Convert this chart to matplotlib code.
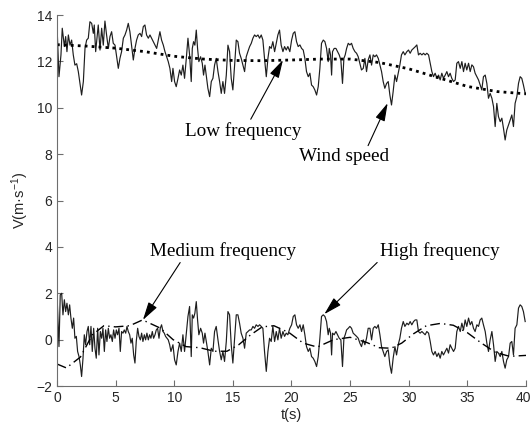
import matplotlib
matplotlib.use("Agg")
import matplotlib.pyplot as plt
from matplotlib.transforms import ScaledTranslation

plt.rcParams["font.family"] = ["Liberation Sans", "DejaVu Sans"]
plt.rcParams["mathtext.default"] = "regular"

# sample times, first ~10 s (wind record), first ~10 s (high-frequency part), shared remainder
t_head_wind = [0.0, 0.17, 0.34, 0.45, 0.63, 0.74, 0.85, 0.97,
               1.11, 1.25, 1.39, 1.53, 1.68, 1.82, 1.96, 2.10, 2.25, 2.39, 2.53, 2.67, 2.81, 2.96, 3.10,
               3.18, 3.30, 3.44, 3.52,
               3.67, 3.81, 3.95, 4.09, 4.23, 4.38, 4.52, 4.66, 4.80, 4.95, 5.09, 5.23, 5.37, 5.51,
               5.66, 5.80, 5.94, 6.08, 6.22, 6.37, 6.51, 6.65, 6.79, 6.93, 7.08, 7.22, 7.36, 7.50,
               7.64, 7.79, 7.93, 8.07, 8.21, 8.36, 8.50, 8.64, 8.78, 8.92, 9.07, 9.21, 9.35, 9.49,
               9.63, 9.78]
t_head_high = [0.0, 0.17, 0.28, 0.40, 0.51, 0.63, 0.74, 0.85, 0.97, 1.08, 1.19, 1.31, 1.42, 1.53,
               1.65, 1.76, 1.88, 1.99, 2.10, 2.22, 2.33, 2.44, 2.56, 2.67, 2.79, 2.90, 3.01, 3.13,
               3.24, 3.35, 3.47, 3.58, 3.70, 3.81, 3.92, 4.04, 4.15, 4.26, 4.38, 4.49, 4.60, 4.72,
               4.83, 4.95, 5.06, 5.17, 5.29, 5.40, 5.51, 5.63, 5.74, 5.86, 5.97, 6.08, 6.20, 6.31,
               6.42, 6.54, 6.65, 6.76, 6.88, 6.99, 7.11, 7.22, 7.33, 7.45, 7.56, 7.67, 7.79, 7.90,
               8.01, 8.13, 8.24, 8.36, 8.47, 8.58, 8.70, 8.81, 8.92, 9.04, 9.15, 9.26, 9.38, 9.49,
               9.61, 9.72]
t_tail = [9.89, 10.03, 10.17, 10.32, 10.46, 10.60, 10.74, 10.88, 11.03, 11.17, 11.31, 11.45,
          11.54, 11.65, 11.76, 11.88, 11.99, 12.10, 12.25, 12.39, 12.50, 12.62,
          12.73, 12.87, 13.02, 13.16, 13.30, 13.44, 13.58, 13.73, 13.87, 14.01,
          14.15, 14.29, 14.44, 14.58, 14.72, 14.86, 15.00, 15.15, 15.29, 15.43,
          15.57, 15.71, 15.86, 16.00, 16.14, 16.28, 16.43, 16.57, 16.71, 16.85,
          16.99, 17.14, 17.28, 17.42, 17.56, 17.70, 17.85, 17.99, 18.13, 18.27,
          18.41, 18.56, 18.70, 18.84, 18.98, 19.12, 19.27, 19.41, 19.55, 19.69,
          19.86, 20.01, 20.15, 20.29, 20.43, 20.57, 20.72, 20.86, 21.00, 21.14, 21.28, 21.43,
          21.57, 21.71, 21.85, 21.99, 22.14, 22.28, 22.42, 22.56, 22.71, 22.85, 22.99, 23.13,
          23.22, 23.33, 23.42, 23.50, 23.64, 23.79, 23.93, 24.07, 24.21, 24.35, 24.47, 24.58, 24.70,
          24.84, 24.98, 25.12, 25.26, 25.41, 25.55, 25.69, 25.83, 25.97, 26.12, 26.26, 26.40,
          26.54, 26.69, 26.83, 26.97, 27.11, 27.25, 27.40, 27.54, 27.68, 27.82, 27.96, 28.11,
          28.25, 28.39, 28.53, 28.67, 28.82, 28.96, 29.10, 29.24, 29.38, 29.53, 29.67,
          29.84, 29.98, 30.12, 30.26, 30.41, 30.55, 30.69, 30.83, 30.97, 31.12, 31.26, 31.40,
          31.54, 31.69, 31.83, 31.97, 32.11, 32.25, 32.40, 32.54, 32.68, 32.82, 32.96, 33.11,
          33.25, 33.39, 33.53, 33.67, 33.82, 33.96, 34.10, 34.24, 34.39, 34.53, 34.67, 34.81,
          34.95, 35.10, 35.24, 35.38, 35.52, 35.66, 35.81, 35.95, 36.09, 36.23, 36.37, 36.52,
          36.66, 36.80, 36.94, 37.09, 37.23, 37.37, 37.51, 37.65, 37.80, 37.94, 38.08, 38.22,
          38.36, 38.51, 38.65, 38.79, 38.93, 39.07, 39.22, 39.36, 39.50, 39.64, 39.78, 39.93]

wind_speed = [13.57, 11.34, 12.28, 13.43, 12.64, 13.07, 12.42, 13.14,
              12.70, 12.92, 12.28, 11.84, 11.90, 11.56, 11.05, 10.55, 11.13, 12.56, 12.92, 13.00,
              13.71, 13.64, 13.21,
              13.57, 12.42, 13.14, 13.57,
              12.49, 13.43, 12.70, 13.74, 13.14, 12.56, 13.07, 13.28, 12.78, 12.70, 12.20, 11.70,
              12.13, 12.42, 13.00, 13.14, 13.35, 13.64, 13.28, 12.64, 12.06, 12.56, 12.92, 13.14,
              13.21, 13.07, 13.50, 13.57, 13.14, 13.00, 13.14, 13.00, 12.85, 12.70, 12.56, 12.92,
              13.28, 12.92, 12.70, 12.42, 12.20, 11.99, 11.70, 11.13,
              # 9.9 s onwards
              11.70, 11.13, 10.91, 11.27, 11.63, 11.41, 11.84, 11.27, 12.13, 13.00, 12.28, 11.13,
              12.56, 12.85, 12.70, 13.35, 12.56, 11.99, 12.20, 11.92, 11.41, 11.84,
              11.41, 10.84, 10.48, 11.13, 11.27, 11.84, 12.13, 11.56, 11.13, 10.62,
              11.13, 10.62, 11.41, 12.70, 12.42, 11.27, 10.77, 11.84, 12.92, 12.85,
              12.35, 12.13, 11.84, 11.56, 12.20, 12.42, 12.64, 12.78, 13.00, 13.14,
              13.07, 13.14, 13.00, 13.14, 12.92, 12.13, 11.34, 12.13, 12.64, 12.56,
              12.85, 12.42, 12.78, 13.14, 13.35, 12.70, 12.42, 12.64, 12.49, 12.64,
              # 19.9 s onwards
              12.42, 12.92, 13.21, 13.28, 12.85, 12.64, 12.71, 12.56, 12.49, 12.13, 11.56, 11.34,
              11.49, 10.98, 10.91, 10.77, 10.55, 10.91, 11.70, 12.78, 12.92, 12.85, 12.56, 11.99,
              12.56, 12.28, 11.41, 12.42, 12.56, 12.56, 12.42, 12.28, 12.06, 11.05, 12.13, 12.28, 12.56,
              12.78, 12.71, 12.78, 12.56, 12.42, 12.35, 12.20, 11.92, 11.63, 11.70, 12.13, 11.56,
              12.06, 12.28, 11.84, 12.28, 12.20, 12.28, 12.13, 11.84, 11.56, 11.13, 10.84, 11.05,
              11.13, 10.55, 10.12, 10.70, 11.41, 11.13, 11.49, 11.84, 12.28, 12.42, 12.28,
              # 29.8 s onwards
              12.42, 12.49, 12.35, 12.49, 12.56, 12.63, 12.71, 12.28, 12.35, 12.28,
              12.35, 12.28, 12.35, 12.28, 11.92, 11.56, 11.34, 11.49, 11.27, 11.41,
              11.20, 11.49, 11.27, 11.41, 11.56, 11.34, 11.49, 11.27, 11.13, 11.20,
              11.92, 11.99, 11.70, 11.99, 11.56, 11.92, 11.63, 11.92, 11.56, 11.85,
              11.77, 11.49, 11.34, 11.20, 10.98, 10.77, 11.34, 11.41, 11.05, 10.41,
              10.62, 10.41, 10.05, 9.19, 10.19, 9.62, 9.40, 9.55, 9.11, 8.61,
              9.04, 9.26, 9.47, 9.69, 9.19, 10.19, 10.48, 11.05, 11.34, 11.27,
              10.98, 10.62]

high_freq = [2.00, -0.30, 1.93, 2.00, 1.07, 1.72, 1.21, 1.57, 1.07, 1.50, 0.93, 0.49, 0.93, 0.06,
             0.14, -0.51, -0.73, -1.09, -1.59, -0.80, 0.21, -0.22, 0.35, 0.57, -0.22, 0.57, -0.51,
             0.49, -0.37, -0.80, 0.49, -0.66, 0.35, 0.06, 0.49, -0.51, 0.42, -0.08, 0.49, 0.06,
             0.21, -0.08, 0.42, 0.06, 0.42, 0.21, 0.49, -0.51, 0.35, 0.28, 0.42, 0.28, 0.57, 0.35,
             0.21, -0.15, 0.06, -0.66, -1.01, -0.08, 0.49, 0.14, -0.01, 0.28, -0.08, 0.21, -0.01,
             0.28, -0.01, 0.21, 0.06, 0.35, 0.06, 0.21, 0.42, 0.49, 0.06, 0.49, 0.64, 0.35, 0.28,
             0.14, 0.06, -0.01, -0.22, -0.51,
             # 9.9 s onwards
             -0.22, -0.87, -1.09, -0.51, -0.15, -0.51, 0.21, -0.51, 0.28, 1.00, 1.43, -0.73,
             1.07, 0.93, 1.14, 1.64, 0.85, 0.21, 0.49, 0.28, -0.15, 0.28,
             -0.08, -0.51, -1.09, -0.37, -0.51, 0.35, 0.57, -0.01, -0.51, -0.87,
             -0.51, -0.94, -0.08, 1.21, 1.07, -0.22, -1.01, 0.06, 1.07, 1.07,
             0.71, 0.28, 0.06, -0.37, 0.28, 0.35, 0.42, 0.42, 0.57, 0.49,
             0.64, 0.57, 0.64, 0.57, 0.49, -0.51, -1.37, -0.51, 0.06, -0.08,
             0.57, -0.08, 0.35, -0.01, 0.49, 0.06, 0.35, 0.14, 0.28, 0.21,
             # 19.9 s onwards
             0.49, 0.64, 1.00, 1.07, 0.64, 0.49, 0.64, 0.35, 0.64, 0.21, -0.30, -0.51,
             -0.37, -0.73, -0.80, -0.94, -1.16, -0.73, 0.06, 1.00, 1.07, 1.00, 0.78, 0.21,
             0.49, 0.28, -0.66, 0.28, 0.21, 0.35, 0.21, 0.06, -0.01, -1.16, 0.06, 0.21, 0.42,
             0.49, 0.57, 0.49, 0.28, 0.21, 0.14, 0.06, -0.15, -0.30, -0.01, -0.22, 0.06,
             0.49, 0.49, -0.01, 0.49, 0.57, 0.49, 0.64, 0.21, -0.30, -0.51, -0.73, -0.51,
             -0.44, -1.09, -1.45, -0.80, -0.30, -0.66, -0.22, 0.06, 0.49, 0.78, 0.57,
             # 29.8 s onwards
             0.71, 0.64, 0.78, 0.64, 0.78, 0.85, 0.85, 0.35, 0.28, 0.35,
             0.28, 0.21, 0.35, 0.28, -0.08, -0.51, -0.66, -0.51, -0.73, -0.58,
             -0.80, -0.51, -0.66, -0.51, -0.37, -0.58, -0.22, -0.37, -0.51, -0.37,
             0.35, 0.57, 0.35, 0.71, 0.42, 0.85, 0.57, 0.93, 0.64, 0.78,
             0.49, 0.35, 0.64, 0.57, 0.85, 0.93, 0.64, 0.35, -0.15, -0.51,
             -0.01, 0.35, -0.22, -0.94, -0.51, -0.58, -0.73, -0.51, -0.94, -1.23,
             -0.87, -0.73, -0.15, -0.08, -0.66, 0.49, 0.64, 1.36, 1.50, 1.43,
             1.21, 0.78]

t_low = [0, 2.5, 5, 7.5, 10, 12.5, 15, 17.5, 20, 22.5, 25, 27.5, 30, 32.5, 35, 37.5, 40]
low_freq = [12.72, 12.66, 12.57, 12.42, 12.22, 12.10, 12.04, 12.03, 12.06, 12.10, 12.10,
            11.95, 11.68, 11.30, 10.92, 10.70, 10.60]

t_mid = [0, 0.8, 2.0, 3.0, 4.0, 5.0, 6.2, 7.3, 8.8, 9.9, 11.0, 12.2, 13.4, 14.5, 15.5, 16.5,
         17.5, 18.5, 19.8, 21.0, 22.2, 23.6, 25.0, 26.4, 27.5, 28.5, 29.4, 30.4, 31.5, 32.7,
         33.8, 35.0, 36.2, 37.4, 38.6, 40.0]
mid_freq = [-1.05, -1.22, -0.75, 0.20, 0.60, 0.55, 0.60, 0.85, 0.50, 0.00, -0.30, -0.35,
            -0.50, -0.50, -0.22, 0.20, 0.55, 0.60, 0.30, -0.15, -0.32, 0.00, 0.10, -0.12,
            -0.35, -0.37, -0.15, 0.25, 0.60, 0.70, 0.62, 0.30, -0.15, -0.55, -0.72, -0.68]

wind_t = t_head_wind + t_tail
high_t = t_head_high + t_tail

fig = plt.figure(figsize=(5.31, 4.29), dpi=100)
ax = fig.add_axes([0.1073, 0.1002, 0.8833, 0.8648])

ax.plot(wind_t, wind_speed, color="#1e1e1e", lw=0.85)
ax.plot(t_low, low_freq, color="black", lw=2.0, ls=(0, (1, 1.5)))
ax.plot(high_t, high_freq, color="#1e1e1e", lw=0.85)
ax.plot(t_mid, mid_freq, color="black", lw=1.0, ls=(0, (7, 3, 1, 3)))

ax.set_xlim(0, 40)
ax.set_ylim(-2, 14)
ax.set_xticks(range(0, 41, 5))
ax.set_yticks(range(-2, 15, 2))
for side in ["top", "right"]:
    ax.spines[side].set_visible(False)
for side in ["left", "bottom"]:
    ax.spines[side].set_color("#6e6e6e")
    ax.spines[side].set_linewidth(0.8)
ax.tick_params(direction="in", length=4, width=0.8, color="#6e6e6e",
               labelsize=10, labelcolor="#262626")
ax.set_xlabel("t(s)", fontsize=10.5, color="#262626", labelpad=2)
ax.set_ylabel("V(m·s$^{-1}$)", fontsize=10.5, color="#262626", labelpad=4)

# keep the last x tick label inside the canvas
last = ax.get_xticklabels()[-1]
last.set_transform(last.get_transform() + ScaledTranslation(-3 / 100, 0, fig.dpi_scale_trans))

arrow = dict(arrowstyle="-|>,head_length=0.8,head_width=0.22", color="black", lw=0.8,
             shrinkA=0, shrinkB=0)
serif = dict(family="Liberation Serif", fontsize=13.8, ha="center", va="center")
ax.annotate("Low frequency", xy=(19.27, 12.06), xytext=(15.9, 9.0),
            arrowprops=dict(arrow, relpos=(0.55, 1.0)), **serif)
ax.annotate("Wind speed", xy=(28.2, 10.2), xytext=(24.5, 7.88),
            arrowprops=dict(arrow, relpos=(0.75, 1.0)), **serif)
ax.annotate("Medium frequency", xy=(7.33, 0.85), xytext=(14.15, 3.83),
            arrowprops=dict(arrow, relpos=(0.22, 0.0)), **serif)
ax.annotate("High frequency", xy=(22.8, 1.1), xytext=(32.65, 3.83),
            arrowprops=dict(arrow, relpos=(0.0, 0.0)), **serif)

fig.savefig("out.png", dpi=100)
